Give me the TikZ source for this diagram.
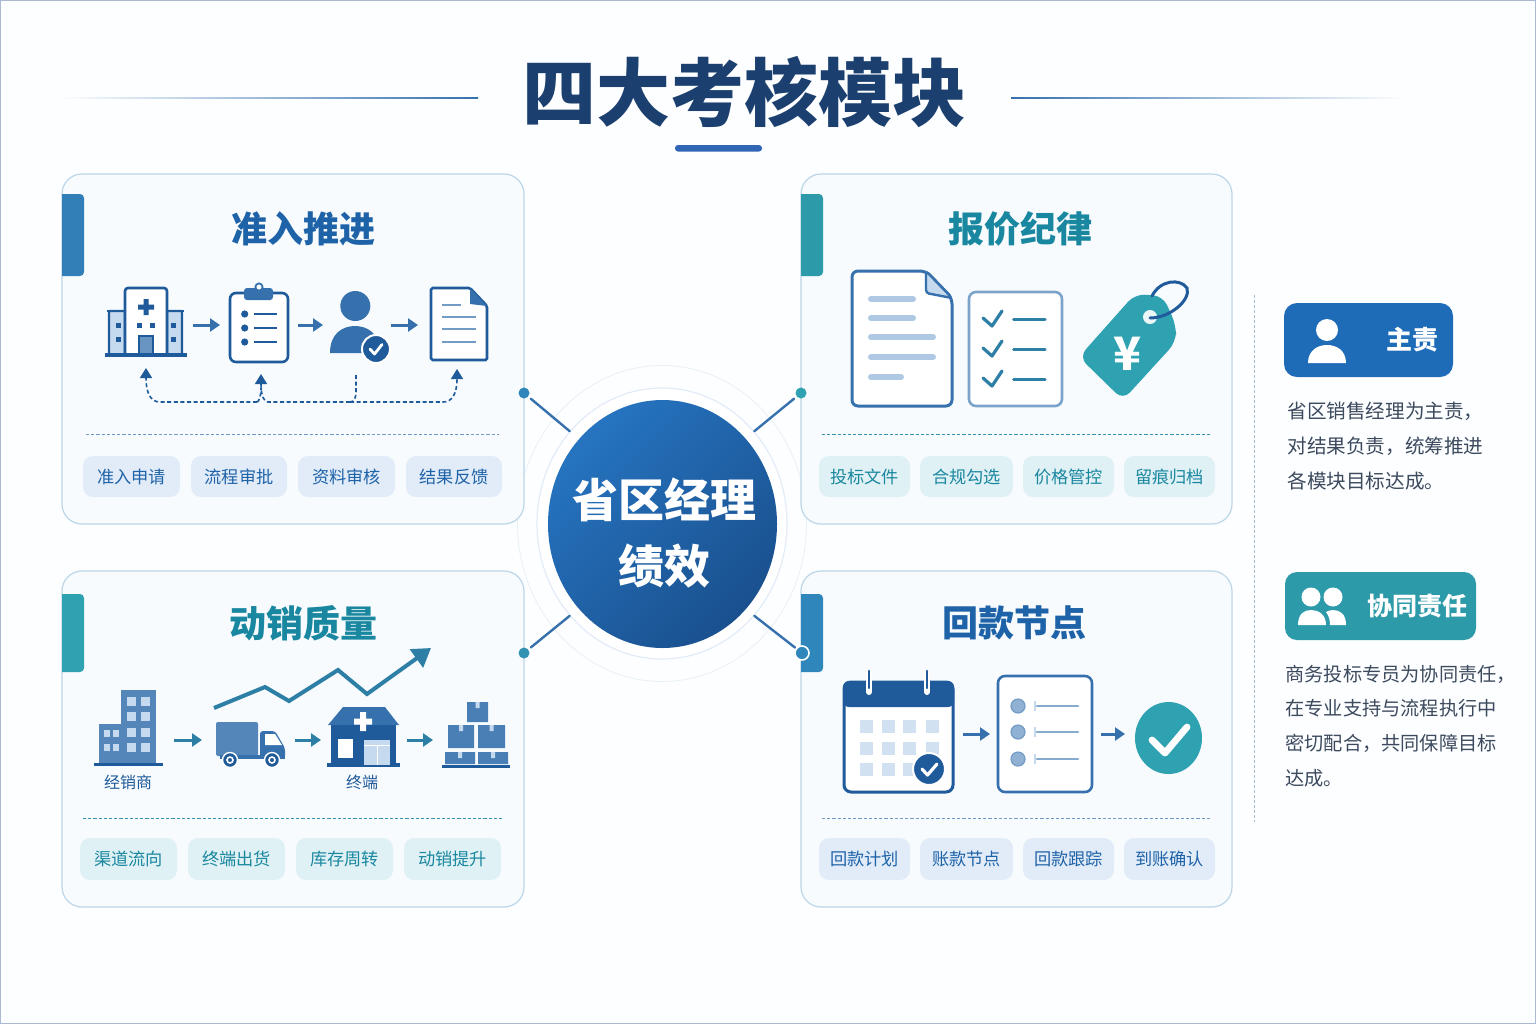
\documentclass[tikz,border=0pt]{standalone}
\usepackage{fontspec}
\setmainfont{Noto Sans CJK SC}
\usetikzlibrary{arrows.meta,shapes.geometric}
\newcommand\fs[1]{\fontsize{#1}{#1}\selectfont}
\definecolor{bgc}{HTML}{FDFEFF}
\definecolor{frame}{HTML}{A9BAD0}
\definecolor{titlec}{HTML}{1B3F6E}
\definecolor{cardb}{HTML}{BBD6E8}
\definecolor{cardf}{HTML}{F7FBFE}
\definecolor{bluet}{HTML}{1E62A8}
\definecolor{tealt}{HTML}{1A87A0}
\definecolor{chipb}{HTML}{E1ECF8}
\definecolor{chipt}{HTML}{DFF1F4}
\definecolor{ink}{HTML}{1F5A9A}
\definecolor{midb}{HTML}{3671AE}
\definecolor{softb}{HTML}{C5D9EF}
\definecolor{teal}{HTML}{2FA2B2}
\definecolor{tealar}{HTML}{2E7FA5}
\definecolor{bodyt}{HTML}{3C4A5E}
\definecolor{HubA}{HTML}{2674C0}
\definecolor{HubB}{HTML}{1A508E}
\definecolor{RespA}{HTML}{1E6BB8}
\tikzset{
  cardbox/.style={draw=cardb,line width=.6pt,fill=cardf,rounded corners=10pt,inner sep=0pt},
  chipbase/.style={rounded corners=5pt,inner sep=0pt,font=\fs{8.6}},
  chipblue/.style={chipbase,fill=chipb,text=bluet},
  chipteal/.style={chipbase,fill=chipt,text=tealt},
  sep/.style={line width=.5pt,dash pattern=on 1.6pt off 1pt},
  flow/.style={line width=1.5pt,-{Triangle[length=5pt,width=6.5pt]}},
  fb/.style={line width=.8pt,draw=ink,dash pattern=on 2pt off 1.3pt},
  fbh/.style={fb,-{Triangle[length=5pt,width=6pt,sep=0pt]}},
  ctitle/.style={font=\fs{18}\bfseries,inner sep=0pt},
  ring/.style={shape=ellipse,draw=#1,inner sep=0pt},
  spoke/.style={draw=midb,line width=1.2pt,line cap=round},
  dotn/.style={circle,fill=#1,inner sep=0pt,minimum size=5.5pt},
  tick/.style={draw=white,line cap=round,line join=round},
  lbl/.style={font=\fs{8},text=#1,inner sep=0pt},
  para/.style={inner sep=0pt,anchor=west,align=left,text=bodyt},
}
\newcommand\cardnode[5]{\pgfmathsetmacro\cxx{(#2+#3)/2}\pgfmathsetmacro\cyy{(#4+#5)/2}\pgfmathsetmacro\cww{(#3-#2)/2}\pgfmathsetmacro\chh{(#5-#4)/2}
  \node[cardbox,minimum width=\cww pt,minimum height=\chh pt] (#1) at (\cxx,\cyy) {};}
\newcommand\chipnode[7]{\pgfmathsetmacro\cxx{(#3+#4)/2}\pgfmathsetmacro\cyy{(#5+#6)/2}\pgfmathsetmacro\cww{(#4-#3)/2}\pgfmathsetmacro\chh{(#6-#5)/2}
  \node[#1,minimum width=\cww pt,minimum height=\chh pt] (#2) at (\cxx,\cyy) {#7};}
\newcommand\tabbar[4]{\fill[#1] (#2,#3) {[rounded corners=2pt] -- ++(22,0) -- ++(0,#4-#3)} -- (#2,#4) -- cycle;}
\begin{document}
\begin{tikzpicture}[x=.5pt,y=-.5pt]
\useasboundingbox (0,0) rectangle (1536,1024);
\fill[bgc] (0,0) rectangle (1536,1024);
\draw[frame,line width=.8pt] (0.5,0.5) rectangle (1535.5,1023.5);

% title
\node[font=\fs{37}\bfseries,text=titlec,inner sep=0pt] (title) at (744,92) {四大考核模块};
\shade[left color=bgc,right color=midb] (60,97.3) rectangle (478,98.7);
\shade[left color=midb,right color=bgc] (1011,97.3) rectangle (1405,98.7);
\fill[midb!90!blue,rounded corners=1.5pt] (675,145) rectangle (762,151.5);

% hub rings (drawn below cards' edge)
\node[ring=cardb!35,minimum width=144.5pt,minimum height=158pt] (ringout) at (662,523.5) {};

% cards
\cardnode{cardA}{62}{524}{174}{524}
\cardnode{cardB}{801}{1232}{174}{524}
\cardnode{cardC}{62}{524}{571}{907}
\cardnode{cardD}{801}{1232}{571}{907}
\tabbar{midb!90!cyan}{62}{194}{276}
\tabbar{teal!95!black}{801}{194}{276}
\tabbar{teal}{62}{594}{672}
\tabbar{midb!85!cyan}{801}{594}{672}

\node[ctitle,text=bluet] (tA) at (303,229) {准入推进};
\node[ctitle,text=tealt] (tB) at (1020,229) {报价纪律};
\node[ctitle,text=tealt,font=\fs{18.5}\bfseries] (tC) at (303,623) {动销质量};
\node[ctitle,text=bluet] (tD) at (1014,623) {回款节点};

\draw[sep,draw=midb!70] (86,434.5) -- (499,434.5);
\draw[sep,draw=teal!70!midb] (822,434.5) -- (1211,434.5);
\draw[sep,draw=teal!70!midb] (83,818) -- (504,818);
\draw[sep,draw=midb!70] (822,818) -- (1211,818);

% chips
\chipnode{chipblue}{a1}{83}{180}{456}{497}{准入申请}
\chipnode{chipblue}{a2}{191}{287}{456}{497}{流程审批}
\chipnode{chipblue}{a3}{298}{395}{456}{497}{资料审核}
\chipnode{chipblue}{a4}{406}{502}{456}{497}{结果反馈}
\chipnode{chipteal}{b1}{819}{910}{456}{497}{投标文件}
\chipnode{chipteal}{b2}{920}{1013}{456}{497}{合规勾选}
\chipnode{chipteal}{b3}{1023}{1114}{456}{497}{价格管控}
\chipnode{chipteal}{b4}{1124}{1215}{456}{497}{留痕归档}
\chipnode{chipteal}{c1}{80}{177}{838}{880}{渠道流向}
\chipnode{chipteal}{c2}{188}{285}{838}{880}{终端出货}
\chipnode{chipteal}{c3}{296}{393}{838}{880}{库存周转}
\chipnode{chipteal}{c4}{404}{501}{838}{880}{动销提升}
\chipnode{chipblue}{d1}{819}{910}{838}{880}{回款计划}
\chipnode{chipblue}{d2}{920}{1013}{838}{880}{账款节点}
\chipnode{chipblue}{d3}{1023}{1114}{838}{880}{回款跟踪}
\chipnode{chipblue}{d4}{1124}{1215}{838}{880}{到账确认}

% hub
\node[ring=chipb,fill=white,minimum width=125pt,minimum height=135.5pt,line width=.6pt] (ringin) at (662,523.5) {};
\node[shape=ellipse,inner sep=0pt,minimum width=114.5pt,minimum height=124pt,top color=HubA,bottom color=HubB,shading angle=45] (hub) at (662.5,524) {};
\node[font=\fontsize{23}{33}\selectfont\bfseries,text=white,align=center,inner sep=0pt] (hubtxt) at (664,533) {省区经理\\绩效};
\node[dotn=midb!85!cyan] (dA) at (524,393) {};
\node[dotn=teal] (dB) at (801,393) {};
\node[dotn=teal!70!midb] (dC) at (524,653) {};
\node[dotn=midb!85!cyan,draw=white,line width=.8pt,minimum size=7pt] (dD) at (802,653) {};
\draw[spoke,shorten >=1.5pt] (ringin.135) -- (dA);
\draw[spoke,shorten >=1.5pt] (ringin.45) -- (dB);
\draw[spoke,shorten >=1.5pt] (ringin.225) -- (dC);
\draw[spoke,shorten >=.5pt] (ringin.315) -- (dD);

%%% card A icons
\begin{scope}
 \draw[ink,line width=1.2pt,fill=softb,rounded corners=.5pt] (109,311) rectangle (125,355);
 \draw[ink,line width=1.2pt,fill=softb,rounded corners=.5pt] (167,311) rectangle (182,355);
 \draw[ink,line width=1.3pt] (107,311) -- (184,311);
 \draw[ink,line width=1.3pt,fill=white,rounded corners=1.5pt] (125,355) -- (125,288) -- (167,288) -- (167,355);
 \draw[ink,fill=midb!75,line width=1pt] (139,355) -- (139,336) -- (153,336) -- (153,355);
 \draw[ink,line width=1.8pt] (105,355) -- (187,355);
 \fill[ink] (143.5,299) rectangle (148.5,315) (138,304.5) rectangle (154,309.5);
 \foreach \p/\q in {118.7/325,118.7/339,173/325,173/339,139/325,152.7/325}{\fill[ink] (\p-2.5,\q-2.5) rectangle (\p+2.5,\q+2.5);}
\end{scope}
\coordinate (fa1) at (193,325); \coordinate (fa2) at (220,325);
\draw[flow,midb] (fa1) -- (fa2);
\draw[ink,line width=1.3pt,fill=white,rounded corners=3pt] (230,293) rectangle (288,362);
\fill[midb,rounded corners=1.5pt] (244,288) rectangle (273,300);
\draw[midb,fill=white,line width=.9pt] (259,287) circle[radius=3.6];
\fill[ink] (244.7,314) circle[radius=3.6] (244.7,328) circle[radius=3.6] (244.7,342) circle[radius=3.6];
\draw[ink,line width=1.1pt] (254,314) -- (277,314) (254,328) -- (277,328) (254,342) -- (277,342);
\coordinate (fa3) at (298,325); \coordinate (fa4) at (323,325);
\draw[flow,midb] (fa3) -- (fa4);
\fill[midb] (355.3,306) circle[radius=15];
\fill[midb] (330,353) .. controls (330,333) and (343,326) .. (355,326) .. controls (367,326) and (380,333) .. (380,353) -- cycle;
\draw[white,fill=ink,line width=1pt] (376,349) circle[radius=14];
\draw[tick,line width=1.4pt] (370,349) -- (374.5,354) -- (382,344.5);
\coordinate (fa5) at (391,325); \coordinate (fa6) at (418,325);
\draw[flow,midb] (fa5) -- (fa6);
\draw[ink,line width=1.3pt,fill=white,rounded corners=.8pt] (431,288) -- (470,288) -- (487,306) -- (487,360) -- (431,360) -- cycle;
\fill[midb] (470,288) -- (487,306) -- (470,304) -- cycle;
\draw[midb!70,line width=1.2pt] (442,305) -- (461,305) (442,317) -- (476,317) (442,329) -- (476,329) (442,342) -- (476,342);
% feedback
\coordinate (j0) at (257,402); \coordinate (j1) at (160,402); \coordinate (fbA) at (146,368);
\coordinate (j2) at (268,402); \coordinate (j3) at (350,402); \coordinate (fbB) at (261,374);
\coordinate (j4) at (356,375); \coordinate (j5) at (360,402); \coordinate (j6) at (443,402); \coordinate (fbC) at (457,369);
\draw[fbh] (j0) -- (j1) .. controls (150,402) and (146,392) .. (fbA);
\draw[fbh] (j3) -- (j2) .. controls (264,402) and (261,396) .. (fbB);
\draw[fb] (j0) .. controls (259,402) and (261,396) .. (261,388);
\draw[fb] (j4) -- (356,392) .. controls (356,398) and (354,402) .. (j3);
\draw[fbh] (j3) -- (j5) -- (j6) .. controls (452,402) and (457,394) .. (fbC);

%%% card B icons
\draw[midb,line width=1.5pt,fill=white,rounded corners=3pt] (852,271) -- (926,271) -- (952,298) -- (952,406) -- (852,406) -- cycle;
\draw[midb,line width=1.2pt,fill=softb,line join=round,rounded corners=1.5pt] (926,271) -- (926,293) -- (952,298) -- cycle;
\draw[softb!85!midb,line width=3pt,line cap=round] (871,299) -- (913,299) (871,318) -- (913,318) (871,337) -- (933,337) (871,357) -- (933,357) (871,377) -- (901,377);
\draw[midb!65,line width=1.3pt,fill=white,rounded corners=3.5pt] (969,292) rectangle (1062,406);
\foreach \q in {0,30,60}{
 \draw[tealar,line width=1.6pt,line join=round,line cap=round] (983,318+\q) -- (992,326+\q) -- (1002,311+\q);
 \draw[tealar,line width=1.5pt,line cap=round] (1013.5,319+\q) -- (1045,319+\q);}
\fill[teal,rounded corners=5pt] (1079,357) -- (1135,294) -- (1163,296) -- (1176,325) -- (1176,342) -- (1123,400) -- cycle;
\fill[white!90!teal] (1150,317) circle[radius=7];
\draw[ink,line width=1.5pt,line cap=round] (1152,296) .. controls (1160,280) and (1180,278) .. (1187,288) .. controls (1191,300) and (1170,318) .. (1150,318);
\node[font=\fs{23}\bfseries,text=white,inner sep=0pt] (yen) at (1127,354) {¥};

%%% card C icons
\fill[midb!85] (121,690) rectangle (156,763);
\fill[midb!85] (99,724) rectangle (121,763);
\draw[ink,line width=1.5pt] (94,764) -- (163,764);
\foreach \p in {131,145}{\foreach \q in {701,716,732,747}{\fill[softb] (\p-4.5,\q-4.5) rectangle (\p+4.5,\q+4.5);}}
\foreach \p in {107,116}{\foreach \q in {733,747}{\fill[softb] (\p-3,\q-3.5) rectangle (\p+3,\q+3.5);}}
\node[lbl=ink] (lblD) at (128,782) {经销商};
\coordinate (fc1) at (174,740); \coordinate (fc2) at (202,740);
\draw[flow,tealar] (fc1) -- (fc2);
\fill[midb!85,rounded corners=1pt] (216,722) rectangle (258,756);
\fill[midb,rounded corners=1.5pt] (260,731) -- (275,731) -- (285,748) -- (285,758) -- (260,758) -- cycle;
\fill[white] (265,734) -- (275,734) -- (282,745) -- (265,745) -- cycle;
\fill[midb] (220,755) rectangle (285,759);
\foreach \p in {230,272}{\draw[white,fill=ink,line width=.7pt] (\p,760) circle[radius=7.5]; \draw[white,line width=.8pt] (\p,760) circle[radius=3];}
\coordinate (tr0) at (214,708); \coordinate (trEnd) at (431,648);
\draw[tealar,line width=2pt,line join=miter,-{Triangle[length=9pt,width=11pt]}] (tr0) -- (265,687) -- (289,701) -- (338,670) -- (367,694) -- (trEnd);
\coordinate (fc3) at (295,740); \coordinate (fc4) at (321,740);
\draw[flow,tealar] (fc3) -- (fc4);
\fill[midb] (328,725) -- (343,707) -- (385,707) -- (399,725) -- cycle;
\fill[ink] (331,725) rectangle (396,765);
\fill[ink] (327,763) rectangle (400,767);
\fill[white] (360,712) rectangle (366,731) (354,718.5) rectangle (372,724.5);
\fill[white] (338,739) rectangle (353,758);
\fill[softb] (364,740) rectangle (390,765);
\draw[white,line width=.5pt] (377,745) -- (377,765) (364,745) -- (390,745);
\node[lbl=ink] (lblT) at (362,782) {终端};
\coordinate (fc5) at (407,740); \coordinate (fc6) at (433,740);
\draw[flow,tealar] (fc5) -- (fc6);
\fill[midb!90] (467,702) rectangle (488,722) (448,725) rectangle (474,748) (478,725) rectangle (505,748) (445,752) rectangle (475,764) (478,752) rectangle (508,764);
\fill[softb] (475.5,702) rectangle (479.5,708) (459,725) rectangle (463,731) (489.5,725) rectangle (493.5,731) (458,752) rectangle (462,758) (491,752) rectangle (495,758);
\draw[ink,line width=1.5pt] (442,766) -- (510,766);

%%% card D icons
\draw[ink,line width=1.5pt,fill=white,rounded corners=3.5pt] (844,682) rectangle (953,792);
\fill[ink,rounded corners=3pt] (843,681) -- (954,681) -- (954,707) -- (843,707) -- cycle;
\foreach \p in {869,927}{\draw[white,line width=3pt,line cap=round] (\p,673) -- (\p,692); \draw[ink,line width=1.3pt,line cap=round] (\p,671) -- (\p,688);}
\foreach \p in {866,888,909,932}{\foreach \q in {726,748,769}{\fill[softb!80] (\p-6.5,\q-6.5) rectangle (\p+6.5,\q+6.5);}}
\draw[white,fill=ink,line width=1pt] (929,769) circle[radius=16];
\draw[tick,line width=1.6pt] (922,769) -- (927.5,775) -- (937,764);
\coordinate (fd1) at (963,734); \coordinate (fd2) at (990,734);
\draw[flow,midb] (fd1) -- (fd2);
\draw[midb,line width=1.3pt,fill=white,rounded corners=3.5pt] (998,676) rectangle (1092,792);
\foreach \q in {706,732,759}{
 \draw[midb!70,fill=midb!55,line width=.6pt] (1018,\q) circle[radius=7];
 \draw[softb,line width=.7pt] (1035,\q-5) -- (1035,\q+5);
 \draw[midb!60,line width=1.3pt,line cap=round] (1037,\q) -- (1078,\q);}
\coordinate (fd3) at (1101,734); \coordinate (fd4) at (1125,734);
\draw[flow,midb] (fd3) -- (fd4);
\node[shape=ellipse,fill=teal,inner sep=0pt,minimum width=33.5pt,minimum height=36pt] (okc) at (1168.5,738) {};
\draw[tick,line width=3.4pt] (1152,740) -- (1165,753) -- (1187,727);

%%% right panel
\draw[cardb!70!gray,line width=.4pt,dash pattern=on 1.5pt off 1pt] (1254.5,295) -- (1254.5,822);
\chipnode{rounded corners=6.5pt,fill=RespA,text=white,font=\fs{13}\bfseries}{bMain}{1284}{1453}{303}{377}{\hspace*{44pt}主责}
\fill[white] (1327,330) circle[radius=11];
\fill[white] (1308,363) .. controls (1308,350) and (1318,345) .. (1327,345) .. controls (1336,345) and (1346,350) .. (1346,363) -- cycle;
\node[para,font=\fontsize{9.8}{17.5}\selectfont] (pMain) at (1287,446) {省区销售经理为主责，\\对结果负责，统筹推进\\各模块目标达成。};
\chipnode{rounded corners=6pt,fill=teal!95!black,text=white,font=\fs{12.5}\bfseries}{bCo}{1285}{1476}{572}{640}{\hspace*{37pt}协同责任}
\fill[white] (1311,597) circle[radius=9.5];
\fill[white] (1298,625) .. controls (1298,614) and (1304,610) .. (1311,610) .. controls (1318,610) and (1326,614) .. (1326,625) -- cycle;
\fill[white] (1333,597) circle[radius=9.5];
\fill[white] (1330,625) -- (1346,625) .. controls (1346,614) and (1340,610) .. (1333,610) .. controls (1330,610) and (1328,611) .. (1326,612) .. controls (1329,616) and (1330,620) .. (1330,625) -- cycle;
\node[para,font=\fontsize{9.6}{17.3}\selectfont] (pCo) at (1285,726) {商务投标专员为协同责任，\\在专业支持与流程执行中\\密切配合，共同保障目标\\达成。};
\end{tikzpicture}
\end{document}
